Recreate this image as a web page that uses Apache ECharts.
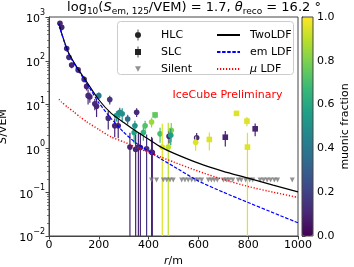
<!DOCTYPE html>
<html><head><meta charset="utf-8">
<script src="https://cdn.jsdelivr.net/npm/echarts@6/dist/echarts.min.js"></script>
<style>html,body{margin:0;padding:0;background:#fff}#c{width:354px;height:267px}</style>
</head><body><div id="c"></div>
<script>
// ---- data ----
// HLC pulses: radius (m), signal (VEM), error (VEM), muonic fraction
const hlcR   = [44, 51, 71, 80, 91, 117, 141, 151, 157, 164, 200, 184, 191, 244, 238, 264, 271, 284, 294, 316, 278, 325, 345, 352, 359, 342, 379, 386, 392, 412, 412, 446, 455, 479, 482, 491, 489, 593, 589, 348, 367, 415];
const hlcS   = [720, 580, 190, 120, 80, 62, 38, 26, 16, 15, 16, 10.4, 9.2, 13, 4.9, 3.3, 5.6, 6.7, 6.2, 4.7, 3.3, 1.07, 3.3, 6.7, 1.07, 2.3, 2.3, 3.3, 0.98, 0.83, 4.0, 2.15, 1.07, 1.07, 1.9, 2.6, 2.0, 1.74, 1.38, 0.95, 1.05, 0.8];
const hlcErr = [90, 80, 25, 16, 12, 9, 6, 5, 6, 4, 3, 3, 4, 3, 2.2, 1.5, 1.5, 1.8, 2.0, 1.2, 1.6, 1.2, 1.0, 1.5, 1.3, 1.0, 0.8, 1.0, 1.1, 1.0, 1.0, 0.8, 2.6, 2.8, 0.6, 1.2, 0.8, 0.5, 0.5, 1.1, 1.2, 0.9];
const hlcMu  = [0.10, 0.10, 0.12, 0.12, 0.10, 0.12, 0.12, 0.10, 0.12, 0.10, 0.40, 0.12, 0.10, 0.15, 0.12, 0.10, 0.55, 0.48, 0.50, 0.35, 0.10, 0.10, 0.50, 0.12, 0.10, 0.58, 0.65, 0.72, 0.15, 0.10, 0.85, 0.70, 0.95, 0.90, 0.12, 0.80, 0.55, 0.12, 0.95, 0.10, 0.12, 0.10];
// SLC pulses
const slcR   = [426, 644, 708, 753, 795, 797, 828];
const slcS   = [5.8, 1.6, 1.8, 6.3, 4.2, 1.07, 2.8];
const slcErr = [1.0, 0.7, 0.7, 0.0, 1.0, 1.2, 0.9];
const slcMu  = [0.75, 0.95, 0.10, 0.95, 0.95, 0.95, 0.10];
// Silent stations
const silentR = [412, 432, 459, 473, 486, 499, 533, 546, 559, 573, 586, 599, 613, 640, 652, 664, 676, 700, 712, 724, 738, 760, 772, 790, 806, 818, 848, 862, 876, 890, 905, 918, 977];
const silentS = silentR.map(() => 0.19);
// LDF curves
const curveR   = [40, 50, 75, 100, 125, 150, 200, 250, 300, 350, 400, 450, 500, 600, 700, 800, 900, 1000];
const twoLDF   = [700, 440, 170, 92, 55, 34, 12.9, 6.3, 3.9, 2.45, 1.62, 1.07, 0.78, 0.46, 0.30, 0.21, 0.145, 0.102];
const emLDF    = [690, 430, 162, 87, 52, 31.6, 11.0, 4.8, 2.34, 1.32, 0.87, 0.575, 0.39, 0.18, 0.10, 0.058, 0.034, 0.020];
const muLDF    = [13.2, 11.5, 8.7, 6.8, 5.2, 4.1, 2.7, 1.82, 1.41, 1.07, 0.81, 0.63, 0.49, 0.30, 0.195, 0.135, 0.10, 0.076];
// axis ticks
const xTicks = [0, 200, 400, 600, 800, 1000];
const yMin = 0.01, yMax = 1000;
const cbTicks = [0.0, 0.2, 0.4, 0.6, 0.8, 1.0];

const viridis = ['#440154','#482878','#3e4989','#31688e','#26828e','#1f9e89','#35b779','#6ece58','#b5de2b','#fde725'];
const FONT = 'DejaVu Sans';

const hlcData = hlcR.map((r, i) => [r, hlcS[i], hlcErr[i], hlcMu[i]]);
const slcData = slcR.map((r, i) => [r, slcS[i], slcErr[i], slcMu[i]]);
const pair = (xs, ys) => xs.map((x, i) => [x, ys[i]]);

const minorVals = [];
for (let d = -2; d < 3; d++) for (let k = 2; k <= 9; k++) minorVals.push(+(k * Math.pow(10, d)).toPrecision(3));

function makeRender(shape) {
  return function (params, api) {
    const r = api.value(0), s = api.value(1), e = api.value(2);
    const p = api.coord([r, s]);
    const top = api.coord([r, s + e]);
    const bot = api.coord([r, Math.max(s - e, yMin)]);
    const color = api.visual('color');
    const marker = shape === 'circle'
      ? { type: 'circle', shape: { cx: p[0], cy: p[1], r: 2.8 }, style: { fill: color } }
      : { type: 'rect', shape: { x: p[0] - 2.8, y: p[1] - 2.8, width: 5.6, height: 5.6 }, style: { fill: color } };
    return {
      type: 'group',
      children: [
        { type: 'line', shape: { x1: p[0], y1: top[1], x2: p[0], y2: bot[1] }, style: { stroke: color, lineWidth: 1.2 } },
        marker
      ]
    };
  };
}

const lineLegendStyle = { opacity: 0 };

const chart = echarts.init(document.getElementById('c'), null, { renderer: 'canvas' });
chart.setOption({
  animation: false,
  textStyle: { fontFamily: FONT, color: '#000' },
  grid: [
    { left: 49, right: 56, top: 17, bottom: 31, show: true, borderColor: '#444', borderWidth: 1, backgroundColor: 'transparent', outerBoundsMode: 'none', containLabel: false },
    { left: 302, width: 11, top: 17, height: 219, show: true, borderColor: '#444', borderWidth: 1, backgroundColor: 'transparent', z: 6, outerBoundsMode: 'none', containLabel: false }
  ],
  xAxis: [
    { type: 'value', gridIndex: 0, min: 0, max: 1000, interval: 200,
      name: '{i|r}/m', nameLocation: 'middle', nameGap: 17,
      nameTextStyle: { fontSize: 11, fontFamily: FONT, color: '#000', rich: { i: { fontStyle: 'italic', fontSize: 11, fontFamily: FONT } } },
      axisLine: { lineStyle: { color: '#444' } }, axisTick: { length: 3.5, lineStyle: { color: '#444' } },
      axisLabel: { fontSize: 11, color: '#000', margin: 4, formatter: v => String(v) }, splitLine: { show: false } },
    { type: 'value', gridIndex: 1, show: false, min: 0, max: 1 }
  ],
  yAxis: [
    { type: 'log', gridIndex: 0, min: yMin, max: yMax, logBase: 10, splitNumber: 5,
      name: '{i|S}/VEM', nameLocation: 'middle', nameGap: 32, nameRotate: 90,
      nameTextStyle: { fontSize: 11, fontFamily: FONT, color: '#000', rich: { i: { fontStyle: 'italic', fontSize: 11, fontFamily: FONT } } },
      axisLine: { lineStyle: { color: '#444' } }, axisTick: { length: 3.5, lineStyle: { color: '#444' } },
      splitLine: { show: false },
      axisLabel: { margin: 4, color: '#000',
        formatter: v => { const e = Math.round(Math.log10(v)); return '{b|10}{s|' + (e < 0 ? '\u2212' + (-e) : e) + '}'; },
        rich: { b: { fontSize: 11, fontFamily: FONT, verticalAlign: 'bottom', lineHeight: 16 }, s: { fontSize: 8, fontFamily: FONT, verticalAlign: 'top', lineHeight: 16 } } } },
    { type: 'log', gridIndex: 0, min: yMin, max: yMax, logBase: 10, position: 'left',
      axisLine: { show: false }, axisLabel: { show: false }, splitLine: { show: false },
      axisTick: { show: true, length: 2, customValues: minorVals, lineStyle: { color: '#444', width: 0.7 } } },
    { type: 'value', gridIndex: 1, min: 0, max: 1, interval: 0.2, position: 'right',
      name: 'muonic fraction', nameLocation: 'middle', nameGap: 27, nameRotate: 90,
      nameTextStyle: { fontSize: 11, fontFamily: FONT, color: '#000' },
      axisLine: { show: true, lineStyle: { color: '#444' } }, axisTick: { show: true, length: 3.5, lineStyle: { color: '#444' } },
      splitLine: { show: false },
      axisLabel: { fontSize: 11, color: '#000', margin: 4, formatter: v => v.toFixed(1) } }
  ],
  visualMap: {
    type: 'continuous', min: 0, max: 1, dimension: 3, seriesIndex: [0, 1],
    inRange: { color: viridis }, left: 302, top: 17, itemWidth: 11, itemHeight: 219,
    padding: 0, calculable: false, text: null, showLabel: false, hoverLink: false, z: 5
  },
  legend: [
    { orient: 'vertical', left: 130, top: 23, itemWidth: 6, itemHeight: 14, itemGap: 3, z: 10,
      symbolKeepAspect: true,
      textStyle: { fontSize: 11, fontFamily: FONT, color: '#000', lineHeight: 14, padding: [0, 0, 0, 15] },
      data: [
        { name: 'HLC', icon: 'path://M2.6,0H3.4V11H2.6Z M3,2.5A3,3,0,1,1,2.99,2.5Z', itemStyle: { color: '#222' } },
        { name: 'SLC', icon: 'path://M2.6,0H3.4V11H2.6Z M0,2.5H6V8.5H0Z', itemStyle: { color: '#222' } },
        { name: 'Silent', icon: 'path://M0,0H5L2.5,4.5Z', itemStyle: { color: '#777' } }
      ] },
    { orient: 'vertical', left: 211, top: 23, itemWidth: 23, itemHeight: 14, itemGap: 3, z: 10,
      textStyle: { fontSize: 11, fontFamily: FONT, color: '#000', lineHeight: 14, padding: [0, 0, 0, 5], rich: { i: { fontStyle: 'italic', fontSize: 11, fontFamily: FONT } } },
      formatter: n => n === '\u03bc LDF' ? '{i|\u03bc} LDF' : n,
      data: [
        { name: 'TwoLDF', itemStyle: lineLegendStyle },
        { name: 'em LDF', itemStyle: lineLegendStyle },
        { name: '\u03bc LDF', itemStyle: lineLegendStyle }
      ] }
  ],
  graphic: [
    { type: 'rect', z: 9, shape: { x: 117.5, y: 21.5, width: 176, height: 53, r: 3 },
      style: { fill: 'rgba(255,255,255,0.85)', stroke: '#cccccc', lineWidth: 1 } },
    { type: 'text', z: 10, x: 194, y: 8,
      style: { text: 'log{s|10}({i|S}{s|em, 125}/VEM) = 1.7, {i|\u03b8}{s|reco} = 16.2 \u00b0',
        align: 'center', verticalAlign: 'middle', fontSize: 13, fontFamily: FONT, fill: '#000',
        rich: { s: { fontSize: 9, fontFamily: FONT, verticalAlign: 'bottom', lineHeight: 17 },
                i: { fontSize: 13, fontStyle: 'italic', fontFamily: FONT, lineHeight: 17 } } } },
    { type: 'text', z: 10, x: 227.5, y: 95,
      style: { text: 'IceCube Preliminary', align: 'center', verticalAlign: 'middle', fontSize: 11, fontFamily: FONT, fill: '#ff0000' } }
  ],
  series: [
    { name: 'HLC', type: 'custom', xAxisIndex: 0, yAxisIndex: 0, z: 2, renderItem: makeRender('circle'),
      encode: { x: 0, y: 1 }, data: hlcData, clip: true },
    { name: 'SLC', type: 'custom', xAxisIndex: 0, yAxisIndex: 0, z: 2, renderItem: makeRender('square'),
      encode: { x: 0, y: 1 }, data: slcData, clip: true },
    { name: 'Silent', type: 'scatter', xAxisIndex: 0, yAxisIndex: 0, z: 2, symbol: 'triangle', symbolRotate: 180, symbolSize: 5,
      itemStyle: { color: '#777' }, data: pair(silentR, silentS) },
    { name: 'TwoLDF', type: 'line', xAxisIndex: 0, yAxisIndex: 0, z: 3, showSymbol: false, symbol: 'none', smooth: 0.2,
      lineStyle: { color: '#000', width: 1.2 }, itemStyle: { color: '#000' }, data: pair(curveR, twoLDF) },
    { name: 'em LDF', type: 'line', xAxisIndex: 0, yAxisIndex: 0, z: 3, showSymbol: false, symbol: 'none', smooth: 0.2,
      lineStyle: { color: '#0000ff', width: 1.2, type: [3.5, 1.6] }, itemStyle: { color: '#0000ff' }, data: pair(curveR, emLDF) },
    { name: '\u03bc LDF', type: 'line', xAxisIndex: 0, yAxisIndex: 0, z: 3, showSymbol: false, symbol: 'none', smooth: 0.2,
      lineStyle: { color: '#ff0000', width: 1.4, type: [1.2, 1.8] }, itemStyle: { color: '#ff0000' }, data: pair(curveR, muLDF) }
  ]
});
</script></body></html>
